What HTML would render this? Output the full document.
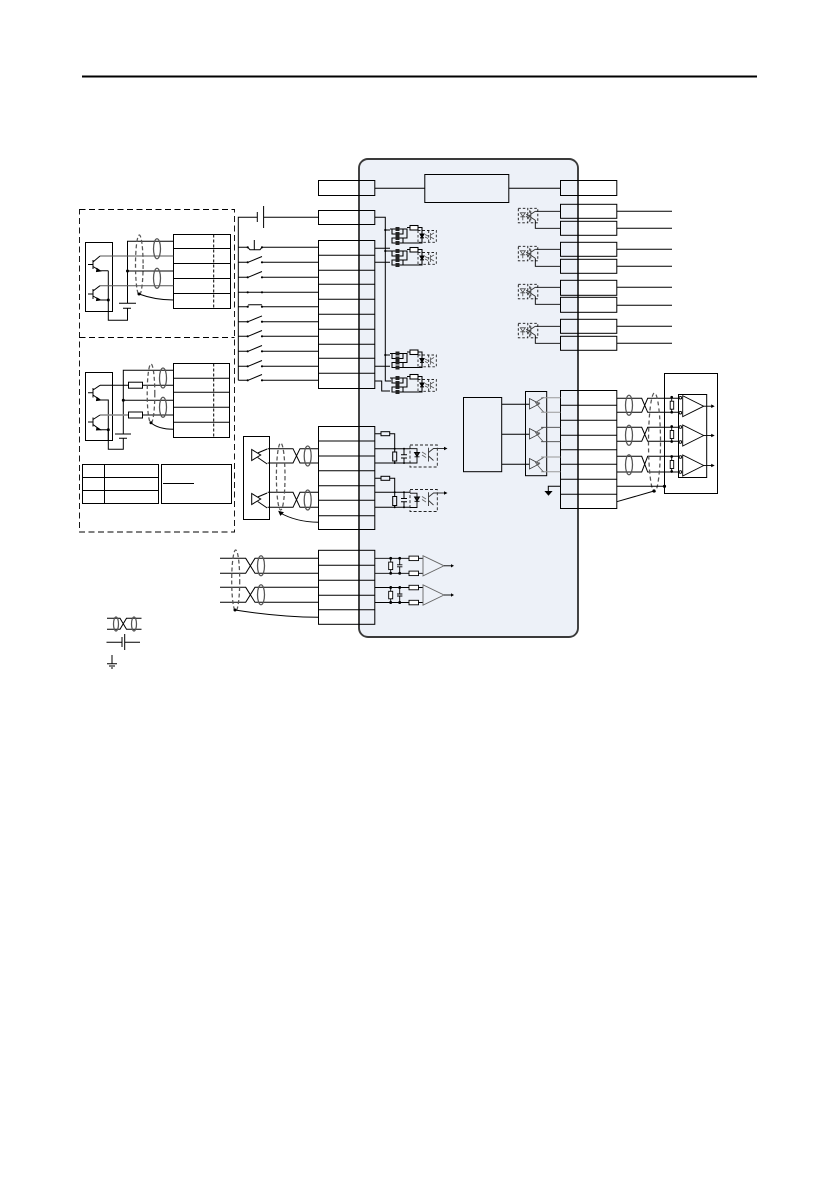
<!DOCTYPE html>
<html>
<head>
<meta charset="utf-8">
<style>
html,body{margin:0;padding:0;background:#fff;}
svg{display:block;}
ellipse{stroke-width:1.25;}
</style>
</head>
<body>
<svg xmlns="http://www.w3.org/2000/svg" width="839" height="1191" viewBox="0 0 839 1191">
<defs>
<g id="bridge" fill="none" stroke="#000" stroke-width="1.05">
  <path d="M0 2H11V7H0ZM0 11H11V16H0Z"/>
  <path d="M-2 2H0M11 2H15V11H11M15 0.5H18M26 0.5H30V7M30 11V16H11M6 7V11"/>
  <rect x="18" y="-1.5" width="8" height="4.5" fill="#fff"/>
  <path d="M28 7H32L30 10.5ZM28 10.8H32" fill="#000"/>
  <path d="M3.5 0H7.5V4H3.5ZM3.5 5H7.5V9H3.5ZM3.5 9H7.5V13H3.5ZM3.5 14H7.5V18H3.5Z" fill="#222" stroke="none"/>
  <path d="M26 3.5H44.3V15.3H26M36.7 3.5V15.3M26 3.5V15.3" stroke-dasharray="2.5 2" stroke="#222" stroke-width="0.9"/>
  <path d="M33 7.5L36 9M33 10L36 11.5M38.5 6V13M38.5 8L42 6M38.5 10L42 12" stroke="#555" stroke-width="0.8"/>
</g>
<g id="optoR" fill="none" stroke="#000" stroke-width="0.9">
  <rect x="0" y="0" width="9.5" height="14.5" stroke-dasharray="2.5 2" stroke="#111"/>
  <rect x="11.5" y="0" width="8" height="14.5" stroke-dasharray="2.5 2" stroke="#111"/>
  <path d="M2 4.5H7L4.5 8ZM4.5 8V12M2 8.5H7" stroke="#444" stroke-width="0.8"/>
  <path d="M8 6L11 8M8 8L11 10" stroke="#333" stroke-width="1.1"/>
  <path d="M12.5 3V12M12.5 6L17 3M12.5 9L17 12" stroke="#333"/>
  <path d="M17 3H42M17 12V20H42"/>
</g>
<g id="optoL" fill="none" stroke="#000" stroke-width="0.9">
  <rect x="0" y="0" width="27.3" height="22" stroke-dasharray="3 2" stroke="#222"/>
  <path d="M4.5 7.5H9.5L7 11.5ZM4.5 11.8H9.5" fill="#222"/>
  <path d="M7 7.5V3.7H0M7 11.5V18H0"/>
  <path d="M12 7L16 9.5M12 10L16 12.5" stroke="#666"/>
  <path d="M18.5 2.7V16.5M18.5 7.5L23.5 3.5H35M18.5 11L23.5 15.5" stroke="#333"/>
  <path d="M34 1.7L37.5 3.5L34 5.3Z" fill="#000" stroke="none"/>
</g>
<g id="drvL" fill="none" stroke="#000" stroke-width="1">
  <path d="M0 0V11L9 5.5Z"/>
  <path d="M15.5 -0.5L6 3.5M15.5 14.5L6 8"/>
</g>
<g id="drvR" fill="none" stroke="#333" stroke-width="0.8">
  <path d="M0 0V10.5L10 5.3Z" transform="translate(0,-0.5)"/>
  <path d="M14 -1.5L6 3.5L10 8.5L14 13" stroke="#555"/>
  <path d="M6 7L10 3" stroke="#555"/>
</g>
<g id="recv" fill="none" stroke="#000" stroke-width="0.9">
  <path d="M0 0V21L21 10.5Z"/>
  <path d="M21 10.5H29" />
  <path d="M28.5 8.7L32 10.5L28.5 12.3Z" fill="#000" stroke="none"/>
  <rect x="-12.5" y="5.5" width="3.5" height="8" fill="#fff"/>
  <path d="M-11 1.5V5.5M-11 13.5V16.5"/>
  <circle cx="-11" cy="1.5" r="0.9" fill="#000"/><circle cx="-11" cy="16.5" r="0.9" fill="#000"/>
  <circle cx="-2.3" cy="2" r="1.3" fill="#fff"/><circle cx="-2.3" cy="17" r="1.3" fill="#fff"/>
</g>
<g id="inp" fill="none" stroke="#000" stroke-width="0.9">
  <path d="M0 0H34M0 15H34M48 0V0"/>
  <rect x="34" y="-2.2" width="9.5" height="4.5" fill="#fff"/>
  <rect x="34" y="12.8" width="9.5" height="4.5" fill="#fff"/>
  <path d="M43.5 0H48M43.5 15H48"/>
  <rect x="13.7" y="3.8" width="4" height="7.5" fill="#fff"/>
  <path d="M15.7 0V3.8M15.7 11.3V15M24.7 0V6.5M24.7 8.5V15M22 6.5H27.4M22 8.5H27.4"/>
  <circle cx="15.7" cy="0" r="1" fill="#000"/><circle cx="15.7" cy="15" r="1" fill="#000"/>
  <circle cx="24.7" cy="0" r="1" fill="#000"/><circle cx="24.7" cy="15" r="1" fill="#000"/>
  <path d="M48 -2.6V17.6L69 7.5Z" stroke="#666"/>
  <path d="M69 7.5H77"/>
  <path d="M76 5.8L79 7.5L76 9.2Z" fill="#000" stroke="none"/>
</g>
</defs>

<!-- header rule -->
<rect x="82" y="75.5" width="675" height="2" fill="#000"/>

<!-- main panel -->
<rect x="359" y="159" width="219" height="478" rx="9" ry="9" fill="#edf1f8" stroke="#3a3a3a" stroke-width="1.9"/>

<g fill="none" stroke="#000" stroke-width="1">
  <!-- outer dashed -->
  <rect x="79.5" y="209.5" width="155" height="322.5" stroke-dasharray="6 3.5" stroke-width="0.9"/>
  <path d="M79.5 337.5H234.5" stroke-dasharray="6 3.5" stroke-width="0.9"/>

  <!-- encoder 1 -->
  <rect x="85.5" y="242.5" width="27" height="69"/>
  <rect x="173.5" y="234.5" width="57" height="74"/>
  <path d="M173.5 248.5H230.5M173.5 263.5H230.5M173.5 278.5H230.5M173.5 293.5H230.5"/>
  <path d="M213.7 234.5V308.5" stroke-dasharray="3 2"/>
  <path d="M173.5 241.3H127.5V303.3M119 303.3H136M123 308.3H131M127.5 308.3V320.3H108.3V270.7M127.5 271H173.5"/>
  <path d="M100 256H173.5M100 285.7H173.5" stroke="#555"/>
  <path d="M88 264.5H93M93 260V269M93 262L100 256M93 266.5L100 270.7H108.3M88 294H93M93 289V299M93 291L100 285.7M93 296L100 300H108.3"/>
  <path d="M97 268.5L100.5 271L96.5 271.5ZM97 298L100.5 300L96.5 300.5Z" fill="#000"/>
  <circle cx="127.5" cy="271" r="1" fill="#000"/><circle cx="108.3" cy="300" r="1" fill="#000"/>
  <ellipse cx="139.3" cy="265" rx="3.8" ry="30" stroke="#555" stroke-dasharray="4 2.5"/>
  <ellipse cx="157" cy="248.7" rx="3.5" ry="10" stroke="#555"/>
  <ellipse cx="157" cy="278.3" rx="3.5" ry="10" stroke="#555"/>
  <path d="M139 294Q155 300 173.5 300"/>
  <circle cx="139" cy="294" r="1" fill="#000"/>

  <!-- encoder 2 -->
  <rect x="85.5" y="372.5" width="27" height="68"/>
  <rect x="173.5" y="363.5" width="56" height="74"/>
  <path d="M173.5 378.3H229.5M173.5 392.3H229.5M173.5 407.3H229.5M173.5 422.3H229.5"/>
  <path d="M213.7 363.5V437.5" stroke-dasharray="3 2"/>
  <path d="M173.5 370.3H123.3V434M115 434H131M119 438.3H127M123.3 438.3V449.3H108.3V400H100M123.3 400.3H173.5"/>
  <path d="M100 385.3H128.5M142.7 385.3H173.5M142.7 415H173.5"/>
  <path d="M100 415H128.5" stroke="#888" stroke-width="1.4"/>
  <rect x="128.5" y="382.2" width="14" height="6"/>
  <rect x="128.5" y="412" width="14" height="6"/>
  <path d="M88 392.7H93M93 388V397.5M93 390L100 385.3M93 395L100 400M88 422H93M93 417.5V426.5M93 419.5L100 415M93 424.5L100 429.7H108.3V440"/>
  <path d="M97 397.5L100.5 400L96.5 400.5ZM97 427.5L100.5 429.7L96.5 430Z" fill="#000"/>
  <circle cx="123.3" cy="400.3" r="1" fill="#000"/><circle cx="108.3" cy="429.7" r="1" fill="#000"/>
  <ellipse cx="151" cy="393.5" rx="3.8" ry="29.5" stroke="#555" stroke-dasharray="4 2.5"/>
  <ellipse cx="163" cy="378" rx="3.5" ry="10" stroke="#555"/>
  <ellipse cx="163" cy="407.3" rx="3.5" ry="10" stroke="#555"/>
  <path d="M151 422.7Q158 429 173.5 429.3"/>
  <circle cx="151" cy="422.7" r="1" fill="#000"/>

  <!-- tables -->
  <rect x="82.5" y="464.5" width="76" height="39"/>
  <path d="M82.5 477.5H158.5M82.5 490.5H158.5M104.5 464.5V503.5"/>
  <rect x="161.5" y="464.5" width="70" height="39"/>
  <path d="M163 483.5H194"/>

  <!-- top terminals -->
  <rect x="318.5" y="180.5" width="56.3" height="15"/>
  <rect x="318.5" y="210.5" width="56.3" height="14"/>
  <rect x="424.8" y="174.5" width="84" height="28"/>
  <rect x="560.5" y="180.5" width="56.3" height="15"/>
  <path d="M374.8 188.3H424.8M508.8 188.3H560.5"/>

  <!-- battery and bus -->
  <path d="M318.5 217.3H263.6M257.3 217.3H238.3V380.3M263.6 206V228M257.3 212V222"/>
  <!-- left terminal stack -->
  <rect x="318.5" y="240.5" width="56.3" height="148"/>
  <path d="M318.5 255.3H374.8M318.5 270.3H374.8M318.5 284.3H374.8M318.5 299.3H374.8M318.5 314.3H374.8M318.5 329.3H374.8M318.5 344.3H374.8M318.5 358.3H374.8M318.5 373.3H374.8"/>
  <!-- switch wires -->
  <path d="M238.3 247.3H247.7M262 247.3H318.5M238.3 262.3H247.7M262 262.3H318.5M238.3 277.3H247.7M262 277.3H318.5M238.3 292.3H318.5M238.3 306.7H247.7M262 306.7H318.5M238.3 321.7H247.7M262 321.7H318.5M238.3 336.3H247.7M262 336.3H318.5M238.3 351.3H247.7M262 351.3H318.5M238.3 366.3H247.7M262 366.3H318.5M238.3 380.3H247.7M262 380.3H318.5"/>
  <path d="M247.7 247.3L250 249.7H260L262 247.3M254.3 240V249.7"/>
  <path d="M248 262.3L262 256.5M248 277.3L262 271.5M248 305L250 304.7H261L262 305M248 321.7L262 315.9M248 336.3L262 330.5M248 351.3L262 345.5M248 366.3L262 360.5M248 380.3L262 374.5"/>
  <!-- right of stack -->
  <path d="M374.8 217.3H385.3V381H391M374.8 248.3H390M374.8 262.3H390M374.8 366.3H390M374.8 381H381.7V391H390M385.3 230H390M385.3 251H390M385.3 355H390"/>
</g>
<g fill="#000">
  <circle cx="247.7" cy="247.3" r="1.1"/><circle cx="262" cy="247.3" r="1.1"/>
  <circle cx="247.7" cy="262.3" r="1.1"/><circle cx="262" cy="262.3" r="1.1"/>
  <circle cx="247.7" cy="277.3" r="1.1"/><circle cx="262" cy="277.3" r="1.1"/>
  <circle cx="247.7" cy="292.3" r="1.1"/><circle cx="262" cy="292.3" r="1.1"/>
  <circle cx="247.7" cy="306.7" r="1.1"/><circle cx="262" cy="306.7" r="1.1"/>
  <circle cx="247.7" cy="321.7" r="1.1"/><circle cx="262" cy="321.7" r="1.1"/>
  <circle cx="247.7" cy="336.3" r="1.1"/><circle cx="262" cy="336.3" r="1.1"/>
  <circle cx="247.7" cy="351.3" r="1.1"/><circle cx="262" cy="351.3" r="1.1"/>
  <circle cx="247.7" cy="366.3" r="1.1"/><circle cx="262" cy="366.3" r="1.1"/>
  <circle cx="247.7" cy="380.3" r="1.1"/><circle cx="262" cy="380.3" r="1.1"/>
  <circle cx="385.3" cy="230" r="1.1"/><circle cx="385.3" cy="251" r="1.1"/><circle cx="385.3" cy="355" r="1.1"/>
</g>

<!-- bridge blocks -->
<use href="#bridge" x="392" y="227"/>
<use href="#bridge" x="392" y="249"/>
<use href="#bridge" x="392" y="351.5"/>
<use href="#bridge" x="392" y="376"/>

<!-- right optos -->
<use href="#optoR" x="518.3" y="208.3"/>
<use href="#optoR" x="518.3" y="246.3"/>
<use href="#optoR" x="518.3" y="284.3"/>
<use href="#optoR" x="518.3" y="323.3"/>

<g fill="none" stroke="#000" stroke-width="1">
  <rect x="560.5" y="204.3" width="56.3" height="14"/>
  <rect x="560.5" y="221.3" width="56.3" height="14"/>
  <rect x="560.5" y="242.3" width="56.3" height="14"/>
  <rect x="560.5" y="259.3" width="56.3" height="14"/>
  <rect x="560.5" y="280.3" width="56.3" height="15"/>
  <rect x="560.5" y="297.3" width="56.3" height="15"/>
  <rect x="560.5" y="319.3" width="56.3" height="14"/>
  <rect x="560.5" y="336.3" width="56.3" height="14"/>
  <path d="M616.8 211.3H672M616.8 228.3H672M616.8 249.3H672M616.8 266.3H672M616.8 287.3H672M616.8 305.3H672M616.8 326.3H672M616.8 343.3H672"/>

  <!-- mid lower sensor -->
  <rect x="243.5" y="436.5" width="26" height="83"/>
  <rect x="318.5" y="426.5" width="56.3" height="103"/>
  <path d="M318.5 441H374.8M318.5 456H374.8M318.5 470.7H374.8M318.5 485.7H374.8M318.5 500.3H374.8M318.5 515.7H374.8"/>
  <path d="M267.7 448.7H293L300 463H318.5M267.7 463H293L300 448.7H318.5M267.7 492.3H293L300 507.3H318.5M267.7 507.3H293L300 492.3H318.5"/>
  <ellipse cx="307.7" cy="456" rx="3.5" ry="10" stroke="#555"/>
  <ellipse cx="307.7" cy="500" rx="3.5" ry="10" stroke="#555"/>
  <ellipse cx="280.7" cy="476.5" rx="4.3" ry="33.5" stroke="#555" stroke-dasharray="4 2.5"/>
  <path d="M279.5 512.5Q296 522 318.5 522.3"/>
  <path d="M279 511.5L283 512.5L280.5 515Z" fill="#000"/>
  <!-- mid lower inputs -->
  <path d="M374.8 433.7H381M389.7 433.7H394.7V452M394.7 461V463M374.8 448.7H410M374.8 463H410M404 448.7V454.7M404 458V463M401 454.7H407M401 458H407"/>
  <rect x="381" y="431.7" width="8.7" height="4"/>
  <rect x="392.7" y="452" width="4" height="9"/>
  <path d="M374.8 478.3H381M389.7 478.3H394.7V496.5M394.7 505.5V507.3M374.8 492.3H410M374.8 507.3H410M404 492.3V498.5M404 501.8V507.3M401 498.5H407M401 501.8H407"/>
  <rect x="381" y="476.3" width="8.7" height="4"/>
  <rect x="392.7" y="496.5" width="4" height="9"/>
</g>
<g fill="#000">
  <circle cx="394.7" cy="448.7" r="1"/><circle cx="394.7" cy="463" r="1"/><circle cx="404" cy="448.7" r="1"/><circle cx="404" cy="463" r="1"/>
  <circle cx="394.7" cy="492.3" r="1"/><circle cx="394.7" cy="507.3" r="1"/><circle cx="404" cy="492.3" r="1"/><circle cx="404" cy="507.3" r="1"/>
</g>
<use href="#optoL" x="410" y="445"/>
<use href="#optoL" x="410" y="489.5"/>
<use href="#drvL" x="251.7" y="449.5"/>
<use href="#drvL" x="251.7" y="493.5"/>

<g fill="none" stroke="#000" stroke-width="1">
  <!-- bottom stack -->
  <rect x="318.5" y="550.3" width="56.3" height="74"/>
  <path d="M318.5 565.3H374.8M318.5 580.3H374.8M318.5 595.3H374.8M318.5 609.7H374.8"/>
  <path d="M220 558.3H245.7L255 573.3H318.5M220 573.3H245.7L255 558.3H318.5M220 587.3H245.7L255 602.3H318.5M220 602.3H245.7L255 587.3H318.5"/>
  <ellipse cx="261" cy="565.7" rx="3.5" ry="10" stroke="#555"/>
  <ellipse cx="261" cy="594.7" rx="3.5" ry="10" stroke="#555"/>
  <ellipse cx="235.7" cy="580.5" rx="4" ry="30.5" stroke="#555" stroke-dasharray="4 2.5"/>
  <path d="M235 610Q280 617 318.5 617.3"/>
  <circle cx="235" cy="610" r="1" fill="#000"/>

  <!-- legend -->
  <path d="M107 618.3H120L126.5 629.3H141.5M107 629.3H120L126.5 618.3H141.5"/>
  <ellipse cx="116" cy="624" rx="2.5" ry="7" stroke="#555"/>
  <ellipse cx="134" cy="624" rx="2.5" ry="7" stroke="#555"/>
  <path d="M106.5 642.3H122M122 637V647M124.7 634V650M124.7 642.3H140M112 655V663.7M107 663.7H117M109 666H115M111 668H113"/>

  <!-- right lower -->
  <rect x="463.5" y="397.5" width="38.2" height="74.2"/>
  <rect x="525.5" y="391.5" width="21.2" height="84.2"/>
  <rect x="560.5" y="390.5" width="56.3" height="118"/>
  <path d="M560.5 405.3H616.8M560.5 420.3H616.8M560.5 435.3H616.8M560.5 449.7H616.8M560.5 464.3H616.8M560.5 479.3H616.8M560.5 494.3H616.8"/>
  <path d="M501.7 404.3H529.5M501.7 434.3H529.5M501.7 464.3H529.5"/>
  <path d="M541 397.7H560.5M541 412.3H560.5M541 457H560.5M541 471.7H560.5" stroke="#999" stroke-width="1"/>
  <path d="M541 427.3H560.5M541 441.7H560.5" stroke="#444" stroke-width="0.9"/>
  <path d="M616.8 398.3H641.7L647.7 412.3H682M616.8 412.3H641.7L647.7 398.3H682M616.8 427.3H641.7L647.7 441.3H682M616.8 441.3H641.7L647.7 427.3H682M616.8 456.3H641.7L647.7 472H682M616.8 472H641.7L647.7 456.3H682"/>
  <ellipse cx="629" cy="405.3" rx="3.5" ry="10" stroke="#555"/>
  <ellipse cx="629" cy="435.3" rx="3.5" ry="10" stroke="#555"/>
  <ellipse cx="629" cy="464.7" rx="3.5" ry="10" stroke="#555"/>
  <ellipse cx="654.5" cy="442.5" rx="6" ry="49.5" stroke="#555" stroke-dasharray="4 3"/>
  <rect x="664.5" y="373.5" width="53" height="120" fill="#fff" fill-opacity="0"/>
  <rect x="678.5" y="394.5" width="28.2" height="83"/>
  <path d="M616.8 486.3H664.5M616.8 501.7L654 491M560.5 486.3H548.3V492"/>
  <path d="M545.5 491.5H551.5L548.5 495Z" fill="#000"/>
  <circle cx="654" cy="491" r="1.1" fill="#000"/>
  <circle cx="664.5" cy="486.3" r="1.1" fill="#000"/>
</g>
<use href="#drvR" x="529.5" y="399"/>
<use href="#drvR" x="529.5" y="429"/>
<use href="#drvR" x="529.5" y="459"/>
<use href="#recv" x="682.7" y="395.7"/>
<use href="#recv" x="682.7" y="425"/>
<use href="#recv" x="682.7" y="455"/>
<use href="#inp" x="375" y="558.3"/>
<use href="#inp" x="375" y="587.5"/>
</svg>
</body>
</html>
